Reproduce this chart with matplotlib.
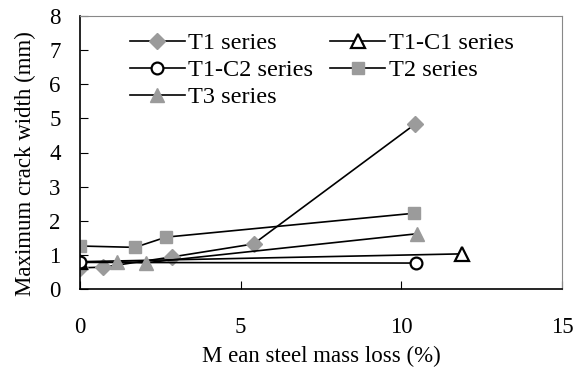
import matplotlib.pyplot as plt

plt.rcParams['font.family'] = ['Liberation Serif', 'DejaVu Serif']

# Data
t1_x = [0, 0.72, 2.87, 5.4, 10.44]
t1_y = [0.62, 0.64, 0.94, 1.32, 4.84]
t1c1_x = [0, 11.9]
t1c1_y = [0.8, 1.03]
t1c2_x = [0, 10.47]
t1c2_y = [0.78, 0.76]
t2_x = [0, 1.71, 2.68, 10.4]
t2_y = [1.26, 1.22, 1.52, 2.22]
t3_x = [1.15, 2.05, 10.5]
t3_y = [0.8, 0.77, 1.62]

x_ticks = [0, 5, 10, 15]
y_ticks = [0, 1, 2, 3, 4, 5, 6, 7, 8]

gray = '#9b9b9b'

fig = plt.figure(figsize=(5.85, 3.75), dpi=100)
ax = fig.add_axes([80 / 585, 86 / 375, 482 / 585, 273 / 375])

lw = 1.2
h1, = ax.plot(t1_x, t1_y, color='black', lw=lw, marker='D', ms=8.5,
              mfc=gray, mec=gray, label='T1 series')
h2, = ax.plot(t1c1_x, t1c1_y, color='black', lw=lw, marker='^', ms=10,
              mfc='white', mec='black', mew=1.6, label='T1-C1 series')
h3, = ax.plot(t1c2_x, t1c2_y, color='black', lw=lw, marker='o', ms=8.5,
              mfc='white', mec='black', mew=1.6, label='T1-C2 series')
h4, = ax.plot(t2_x, t2_y, color='black', lw=lw, marker='s', ms=8,
              mfc=gray, mec=gray, label='T2 series')
h5, = ax.plot(t3_x, t3_y, color='black', lw=lw, marker='^', ms=10,
              mfc=gray, mec=gray, label='T3 series')

ax.set_xlim(0, 15)
ax.set_ylim(0, 8)
ax.set_xticks(x_ticks)
ax.set_yticks(y_ticks)
ax.tick_params(axis='both', direction='in', labelsize=16.5)
ax.tick_params(axis='x', pad=20, length=6)
ax.tick_params(axis='y', pad=14, length=6)

for side in ['top', 'right']:
    ax.spines[side].set_color('#888888')
    ax.spines[side].set_linewidth(0.8)
for side in ['bottom', 'left']:
    ax.spines[side].set_color('black')
    ax.spines[side].set_linewidth(1.2)

ax.set_xlabel('M ean steel mass loss (%)', fontsize=16.5, labelpad=6)
ax.set_ylabel('Maximum crack width (mm)', fontsize=16.5)
ax.yaxis.set_label_coords(-0.091, 0.458)

ax.legend([h1, h3, h5, h2, h4],
          ['T1 series', 'T1-C2 series', 'T3 series', 'T1-C1 series', 'T2 series'],
          ncol=2, frameon=False, fontsize=17.5, loc='upper left',
          bbox_to_anchor=(0.104, 0.94), borderpad=0, borderaxespad=0,
          handlelength=2.25, handletextpad=0.15, columnspacing=0.7,
          labelspacing=0.2)

fig.savefig('out.png', dpi=100)
